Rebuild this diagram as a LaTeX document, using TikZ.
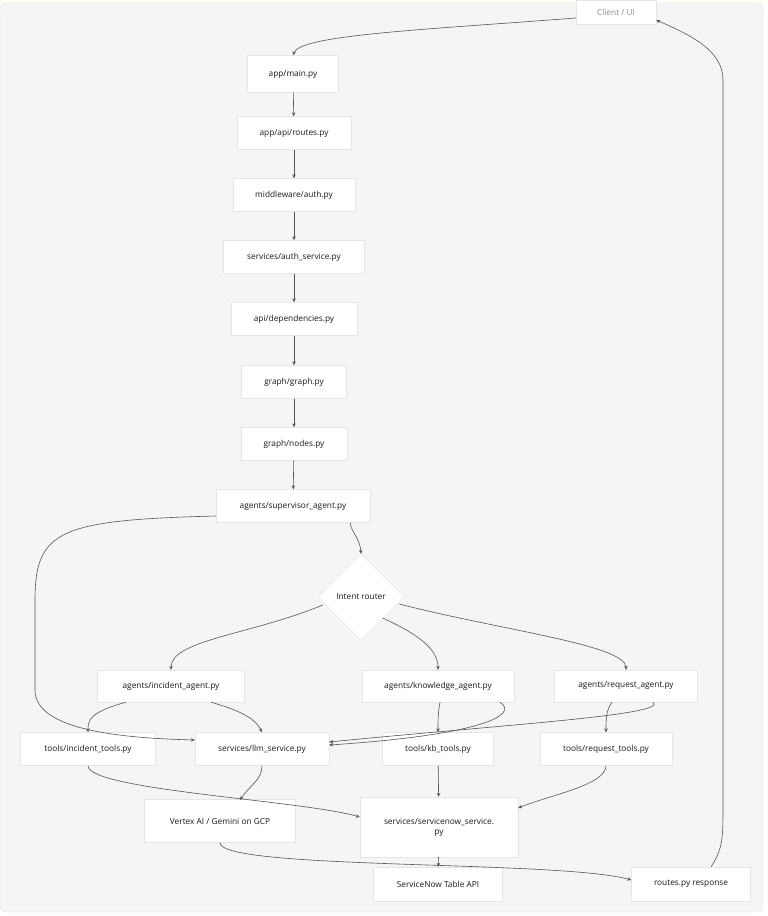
\documentclass[tikz,border=0pt]{standalone}
\usepackage{fontspec}
\setmainfont{Open Sans}
\usetikzlibrary{shapes.geometric,arrows.meta}
\definecolor{bg}{HTML}{F5F5F5}
\definecolor{ln}{HTML}{555555}
\begin{document}
\begin{tikzpicture}[x=1pt,y=-1pt,
  box/.style={draw=white!90!black,fill=white,line width=0.4pt,inner sep=0pt,font=\fontsize{8.3}{10}\selectfont,text=black!90},
  e/.style={draw=ln,line width=0.6pt,-{Stealth[length=4pt,width=3.5pt]}}]
\useasboundingbox (0,0) rectangle (768,916);
\fill[white!97!yellow] (0,0) rectangle (768,4);
\draw[fill=bg,draw=black!12,rounded corners=6pt] (0,3) rectangle (763,912);
\node[box,minimum width=80,minimum height=24,text=black!45] (cl) at (616,12) {Client / UI};
\node[box,minimum width=91,minimum height=37] (main) at (293,74) {app/main.py};
\node[box,minimum width=114,minimum height=33] (routes) at (294,133) {app/api/routes.py};
\node[box,minimum width=122,minimum height=33] (mw) at (294,195) {middleware/auth.py};
\node[box,minimum width=141,minimum height=33] (as) at (294,257) {services/auth\_service.py};
\node[box,minimum width=126,minimum height=33] (dep) at (294,319) {api/dependencies.py};
\node[box,minimum width=105,minimum height=33] (gg) at (294,382) {graph/graph.py};
\node[box,minimum width=106,minimum height=33] (gn) at (294,444) {graph/nodes.py};
\node[box,minimum width=154,minimum height=33] (sup) at (293,506) {agents/supervisor\_agent.py};
\node[box,diamond,minimum width=86,minimum height=86] (ir) at (361,597) {Intent router};
\node[box,minimum width=147,minimum height=32] (ia) at (171,686) {agents/incident\_agent.py};
\node[box,minimum width=152,minimum height=32] (ka) at (438,686) {agents/knowledge\_agent.py};
\node[box,minimum width=143,minimum height=32] (ra) at (626,686) {agents/request\_agent.py};
\node[box,minimum width=135,minimum height=33] (it) at (88,749) {tools/incident\_tools.py};
\node[box,minimum width=134,minimum height=33] (llm) at (262,749) {services/llm\_service.py};
\node[box,minimum width=111,minimum height=33] (kb) at (438,749) {tools/kb\_tools.py};
\node[box,minimum width=132,minimum height=33] (rt) at (606,749) {tools/request\_tools.py};
\node[box,minimum width=151,minimum height=43] (vx) at (220,821) {Vertex AI / Gemini on GCP};
\node[box,minimum width=158,minimum height=60,align=center] (sn) at (439,827) {services/servicenow\_service.\\py};
\node[box,minimum width=129,minimum height=34] (api) at (438,884) {ServiceNow Table API};
\node[box,minimum width=119,minimum height=34] (rr) at (691,884) {routes.py response};
\coordinate (vxin) at (240,800);
\draw[e] (cl.west|-0,18) .. controls (420,30) and (300,35) .. (main.north);
\draw[e] (main) -- (routes);
\draw[e] (routes) -- (mw);
\draw[e] (mw) -- (as);
\draw[e] (as) -- (dep);
\draw[e] (dep) -- (gg);
\draw[e] (gg) -- (gn);
\draw[e] (gn) -- (sup);
\draw[e] (sup.south east)++(-20,0) .. controls (350,530) and (360,538) .. (ir.north);
\draw[e] (sup.west)++(0,10) .. controls (60,520) and (35,530) .. (35,600) -- (35,690) .. controls (35,730) and (120,738) .. (llm.west|-0,740);
\draw[e] (ir.west)++(5,8) .. controls (250,635) and (171,640) .. (ia.north);
\draw[e] (ir.south)++(22,-22) .. controls (420,635) and (438,650) .. (ka.north);
\draw[e] (ir.east)++(-5,7) .. controls (500,630) and (626,645) .. (ra.north);
\draw[e] (ia.south)++(-45,0) .. controls (90,712) and (88,720) .. (it.north);
\draw[e] (ia.south)++(40,0) .. controls (245,712) and (256,720) .. (llm.north);
\draw[e] (ka.south)++(2,0) .. controls (438,712) and (438,720) .. (kb.north);
\draw[e] (ka.south)++(62,0) .. controls (520,715) and (480,735) .. (llm.east|-0,745);
\draw[e] (ra.south)++(-14,0) .. controls (606,710) and (606,720) .. (rt.north);
\draw[e] (ra.south)++(27,0) .. controls (670,715) and (500,725) .. (llm.east|-0,742);
\draw[e] (it.south) .. controls (88,790) and (300,800) .. (sn.west|-0,817);
\draw[e] (kb) -- (sn);
\draw[e] (rt.south) .. controls (606,785) and (550,795) .. (sn.east|-0,808);
\draw[e] (llm.south) .. controls (262,780) and (250,785) .. (vxin);
\draw[e] (sn) -- (api);
\draw[e] (vx.south) .. controls (220,870) and (560,860) .. (rr.west|-0,880);
\draw[e] (rr.north)++(20,0) .. controls (722,850) and (723,840) .. (723,810) -- (723,80) .. controls (723,50) and (690,35) .. (cl.east|-0,20);
\end{tikzpicture}
\end{document}
